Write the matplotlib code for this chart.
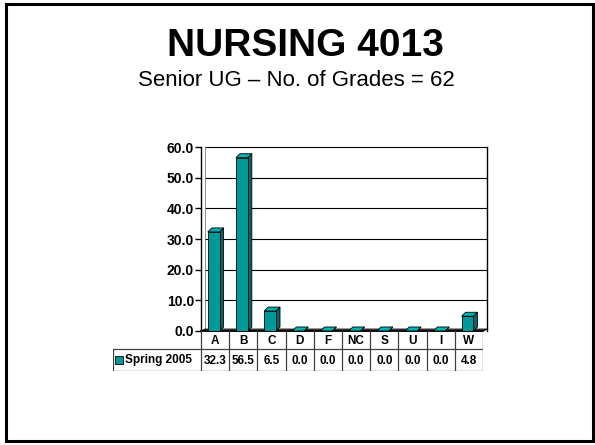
"""
NURSING 4013 grade distribution slide (Spring 2005), 3D-style column chart
with a data table underneath.
"""

import matplotlib
matplotlib.use("Agg")
import matplotlib.pyplot as plt
from matplotlib.patches import Polygon, Rectangle

plt.rcParams["font.family"] = ["Liberation Sans", "DejaVu Sans"]

# ── data ─────────────────────────────────────────────────────────────────────
TITLE     = "NURSING 4013"
SUBTITLE  = "Senior UG \u2013 No. of Grades = 62"
SERIES    = "Spring 2005"
grades    = ["A", "B", "C", "D", "F", "NC", "S", "U", "I", "W"]
pct       = [32.3, 56.5, 6.5, 0.0, 0.0, 0.0, 0.0, 0.0, 0.0, 4.8]
yticks    = [0, 10, 20, 30, 40, 50, 60]

# ── layout (pixels on a 595x445 canvas) ─────────────────────────────────────
W, H = 595, 445
FRONT   = "#009999"
SIDE    = "#006666"
TOP     = "#00b0b0"

fig = plt.figure(figsize=(W / 100, H / 100), dpi=100)

# slide border
fig.patches.append(Rectangle((6 / W, 4 / H), 587 / W, 437 / H,
                             transform=fig.transFigure, fill=False,
                             edgecolor="black", linewidth=2.2))

fig.text(305 / W, 1 - 56 / H, TITLE, ha="center", va="baseline",
         fontsize=28, fontweight="bold")
fig.text(296 / W, 1 - 86 / H, SUBTITLE, ha="center", va="baseline",
         fontsize=16)

# plot area: x 201..483 px, y 147..331 px
ax = fig.add_axes([201 / W, 1 - 331 / H, 282 / W, 184 / H])
n = len(grades)
ax.set_xlim(0, n)
ax.set_ylim(0, 60)
for s in ("top", "right", "bottom"):
    ax.spines[s].set_visible(False)
ax.spines["left"].set_linewidth(1.0)
ax.set_xticks([])
ax.set_yticks(yticks)
ax.set_yticklabels([f"{v:.1f}" for v in yticks], fontsize=10, fontweight="bold")
ax.tick_params(axis="y", length=4, width=1, pad=1)

# depth of the 3D effect in data units
dx = 4 / 28.2
dy = 4 / 3.05

# back wall gridlines and frame
for v in yticks[1:]:
    ax.plot([dx, n + dx], [v, v], color="black", lw=0.8, clip_on=False, zorder=1)
ax.plot([n + dx, n + dx], [0, 60], color="black", lw=1.0, clip_on=False, zorder=1)
ax.plot([dx, dx], [0, 60], color="#808080", lw=0.6, clip_on=False, zorder=1)

# floor
ax.add_patch(Polygon([[0, 0], [n, 0], [n + dx, 0 + 0.6], [dx, 0.6]],
                     closed=True, facecolor="#a0a0a0", edgecolor="black",
                     lw=0.8, clip_on=False, zorder=2))
ax.plot([0, n], [0, 0], color="black", lw=1.2, clip_on=False, zorder=2)

# 3D bars
for i, v in enumerate(pct):
    x0, x1 = i + 0.24, i + 0.66
    kw = dict(closed=True, edgecolor="black", lw=0.6, clip_on=False, zorder=3)
    ax.add_patch(Polygon([[x1, 0], [x1 + dx, dy], [x1 + dx, v + dy], [x1, v]],
                         facecolor=SIDE, **kw))
    ax.add_patch(Polygon([[x0, v], [x1, v], [x1 + dx, v + dy], [x0 + dx, v + dy]],
                         facecolor=TOP, **kw))
    if v > 0:
        ax.add_patch(Polygon([[x0, 0], [x1, 0], [x1, v], [x0, v]],
                             facecolor=FRONT, **kw))

# ── data table: x 113..483 px, y 331..371 px ─────────────────────────────────
hdr_w = 88 / 28.2
tx = fig.add_axes([113 / W, 1 - 371 / H, 370 / W, 40 / H])
tx.set_xlim(-hdr_w, n)
tx.set_ylim(40, 0)
tx.axis("off")
row1, row2 = 18, 40
lc = "#404040"
for i in range(n + 1):
    tx.plot([i, i], [0, row2], color=lc, lw=0.9)
tx.plot([-hdr_w, n], [row1, row1], color=lc, lw=0.9)
tx.plot([-hdr_w, n], [row2, row2], color=lc, lw=0.9)
tx.plot([-hdr_w, -hdr_w], [row1, row2], color=lc, lw=0.9)
for i, (g, v) in enumerate(zip(grades, pct)):
    tx.text(i + 0.5, row1 / 2 + 1, g, ha="center", va="center",
            fontsize=8.5, fontweight="bold")
    tx.text(i + 0.5, (row1 + row2) / 2 + 0.5, f"{v:.1f}", ha="center", va="center",
            fontsize=8.5, fontweight="bold")
tx.add_patch(Rectangle((-hdr_w + 0.08, 25), 0.28, 8, facecolor=FRONT,
                       edgecolor="black", lw=0.6))
tx.text(-hdr_w + 0.42, (row1 + row2) / 2 + 0.5, SERIES, ha="left", va="center",
        fontsize=8.5, fontweight="bold")

fig.savefig("out.png", dpi=100)
